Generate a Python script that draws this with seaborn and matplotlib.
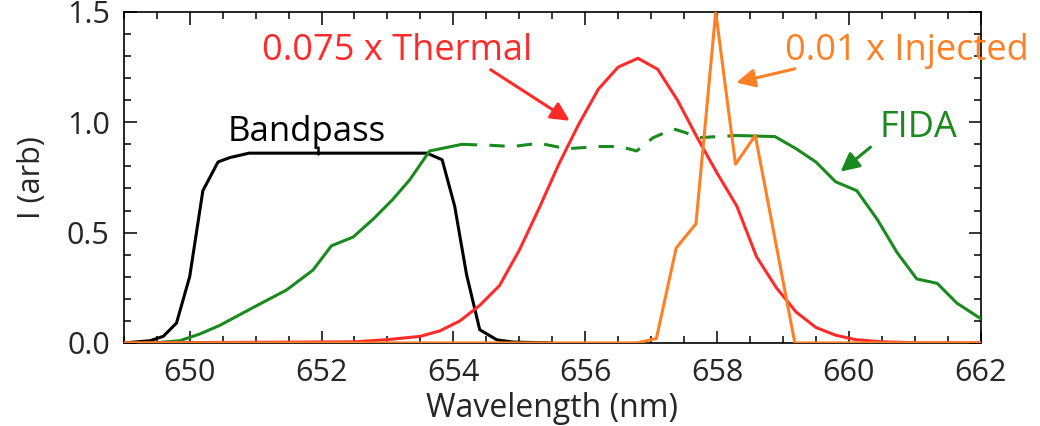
import matplotlib
matplotlib.use("Agg")
import matplotlib.pyplot as plt
import seaborn as sns

# ---- data ----
bandpass_x = [649.0, 649.4, 649.6, 649.8, 650.0, 650.2, 650.43, 650.61, 650.9, 651.5, 652.0,
              652.5, 653.0, 653.6, 653.83, 654.02, 654.2, 654.4, 654.66, 654.9, 655.5]
bandpass_y = [0.0, 0.01, 0.03, 0.09, 0.30, 0.69, 0.82, 0.84, 0.86, 0.86, 0.86,
              0.86, 0.86, 0.86, 0.83, 0.62, 0.31, 0.06, 0.014, 0.004, 0.0]

thermal_x = [649.0, 652.5, 653.0, 653.5, 653.8, 654.1, 654.4, 654.7, 655.0, 655.3, 655.6,
             655.9, 656.2, 656.5, 656.8, 657.1, 657.4, 657.7, 658.0, 658.3, 658.6, 658.9,
             659.2, 659.5, 659.8, 660.1, 660.5, 661.0, 662.0]
thermal_y = [0.0, 0.005, 0.015, 0.03, 0.055, 0.10, 0.17, 0.26, 0.42, 0.61, 0.81,
             0.99, 1.15, 1.25, 1.29, 1.24, 1.10, 0.93, 0.77, 0.62, 0.39, 0.25,
             0.14, 0.07, 0.035, 0.015, 0.005, 0.001, 0.0]

injected_x = [649.0, 656.78, 657.08, 657.38, 657.68, 657.98, 658.28, 658.58, 659.18, 662.0]
injected_y = [0.0, 0.0, 0.02, 0.43, 0.54, 1.50, 0.81, 0.94, 0.0, 0.0]

fida_x1 = [649.45, 649.85, 650.15, 650.46, 650.96, 651.47, 651.87, 652.15, 652.48, 652.78,
           653.08, 653.34, 653.64, 654.13]
fida_y1 = [0.0, 0.01, 0.04, 0.08, 0.16, 0.24, 0.33, 0.44, 0.48, 0.56,
           0.65, 0.74, 0.87, 0.90]
fida_x2 = [654.13, 654.6, 654.9, 655.3, 655.72, 656.2, 656.53, 656.78, 657.03, 657.34,
           657.5, 657.72, 658.0, 658.3]
fida_y2 = [0.90, 0.895, 0.89, 0.905, 0.88, 0.89, 0.89, 0.87, 0.93, 0.97,
           0.955, 0.93, 0.935, 0.94]
fida_x3 = [658.3, 658.88, 659.2, 659.5, 659.8, 660.12, 660.43, 660.73, 661.03, 661.34,
           661.64, 662.0]
fida_y3 = [0.94, 0.935, 0.88, 0.82, 0.73, 0.69, 0.56, 0.41, 0.29, 0.27,
           0.18, 0.11]

x_ticks = [650, 652, 654, 656, 658, 660, 662]
y_ticks = [0.0, 0.5, 1.0, 1.5]
y_tick_labels = ["0.0", "0.5", "1.0", "1.5"]

C_BLACK = "#000000"
C_GREEN = "#1a8a1e"
C_RED = "#ff2a2a"
C_ORANGE = "#ff7f24"

sns.set_style("ticks")
plt.rcParams["font.family"] = ["Open Sans", "DejaVu Sans"]

fig = plt.figure(figsize=(10.4, 4.26), dpi=100)
ax = fig.add_axes([0.119, 0.195, 0.824, 0.777])

lw = 2.2
sns.lineplot(x=bandpass_x, y=bandpass_y, ax=ax, color=C_BLACK, lw=lw, zorder=2)
sns.lineplot(x=fida_x1, y=fida_y1, ax=ax, color=C_GREEN, lw=lw, zorder=3)
sns.lineplot(x=fida_x2, y=fida_y2, ax=ax, color=C_GREEN, lw=lw, zorder=3)
ax.lines[-1].set_dashes((5, 4))
sns.lineplot(x=fida_x3, y=fida_y3, ax=ax, color=C_GREEN, lw=lw, zorder=3)
sns.lineplot(x=thermal_x, y=thermal_y, ax=ax, color=C_RED, lw=lw, zorder=4)
sns.lineplot(x=injected_x, y=injected_y, ax=ax, color=C_ORANGE, lw=lw, zorder=5)

ax.set_xlim(649, 662)
ax.set_ylim(0, 1.5)
ax.set_xticks(x_ticks)
ax.set_yticks(y_ticks)
ax.set_yticklabels(y_tick_labels)
ax.set_xticks([649 + 0.5 * i for i in range(27)], minor=True)
ax.set_yticks([0.1 * i for i in range(16)], minor=True)
ax.tick_params(which="both", direction="in", top=True, right=True, width=1.1, color="black")
ax.tick_params(which="major", length=9, labelsize=22)
ax.tick_params(axis="x", which="major", pad=11)
ax.tick_params(axis="y", which="major", pad=10)
ax.tick_params(which="minor", length=5)
for s in ax.spines.values():
    s.set_linewidth(1.2)
    s.set_color("black")

ax.set_xlabel("Wavelength (nm)", fontsize=23, labelpad=3)
ax.set_ylabel("I (arb)", fontsize=22, labelpad=14)

# annotations
ax.text(653.15, 1.325, "0.075 x Thermal", color=C_RED, fontsize=26, ha="center", va="center")
ax.annotate("", xy=(655.8, 1.0), xytext=(654.53, 1.245),
            arrowprops=dict(arrowstyle="-|>", color=C_RED, lw=2.2, mutation_scale=28))
ax.text(660.88, 1.325, "0.01 x Injected", color=C_ORANGE, fontsize=26, ha="center", va="center",
        clip_on=False)
ax.annotate("", xy=(658.25, 1.177), xytext=(659.22, 1.245),
            arrowprops=dict(arrowstyle="-|>", color=C_ORANGE, lw=2.2, mutation_scale=28))
ax.text(661.06, 0.973, "FIDA", color=C_GREEN, fontsize=26, ha="center", va="center")
ax.annotate("", xy=(659.84, 0.768), xytext=(660.36, 0.895),
            arrowprops=dict(arrowstyle="-|>", color=C_GREEN, lw=2.2, mutation_scale=28))
ax.text(651.78, 0.955, "Bandpass", color=C_BLACK, fontsize=25, ha="center", va="center")
ax.plot([651.95, 651.95], [0.855, 0.89], color=C_BLACK, lw=1.8)

fig.savefig("out.png", dpi=100)
